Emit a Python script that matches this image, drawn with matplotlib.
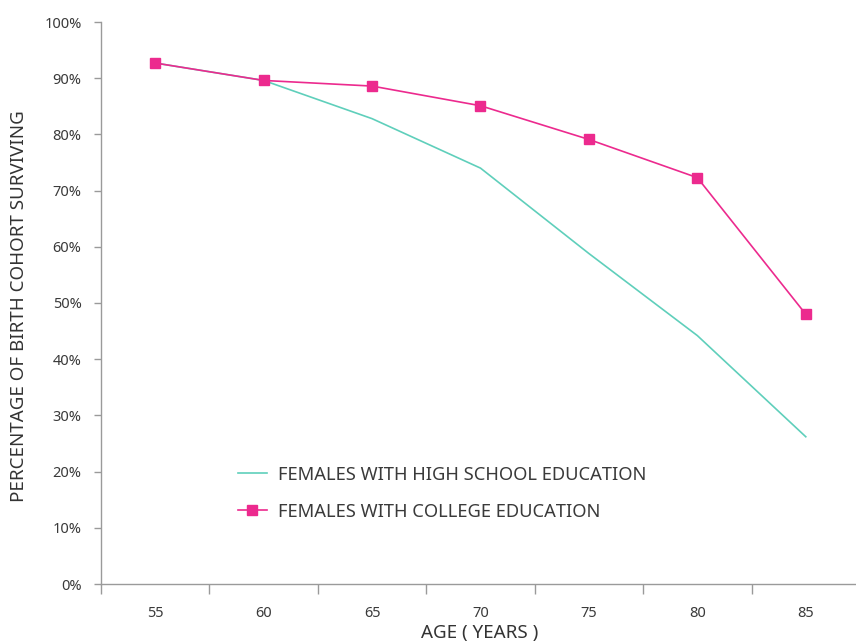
import matplotlib
matplotlib.use("Agg")
import matplotlib.pyplot as plt
from matplotlib.ticker import FuncFormatter

# Survival of the birth cohort by age
ages = ["55", "60", "65", "70", "75", "80", "85"]
high_school = [92.7, 89.6, 82.8, 74.0, 58.8, 44.2, 26.2]
college = [92.7, 89.6, 88.6, 85.1, 79.1, 72.3, 48.0]

plt.rcParams['font.family'] = ['Noto Sans', 'DejaVu Sans']

W, H = 856, 643
fig = plt.figure(figsize=(W / 100, H / 100), dpi=100)
ax = fig.add_axes([101 / W, (H - 584) / H, 759 / W, 562 / H])

x = range(len(ages))
ax.plot(x, high_school, color='#5fcfbb', linewidth=1.2,
        label="FEMALES WITH HIGH SCHOOL EDUCATION")
ax.plot(x, college, color='#ec2a8e', linewidth=1.2, marker='s',
        markersize=7.3, label="FEMALES WITH COLLEGE EDUCATION")

ax.set_xlim(-0.5, len(ages) - 0.5)
ax.set_ylim(0, 100)
ax.set_yticks(range(0, 101, 10))
ax.yaxis.set_major_formatter(FuncFormatter(lambda v, p: f"{int(v)}%"))

# category ticks between groups, labels centred on groups
ax.set_xticks([i - 0.5 for i in range(len(ages) + 1)])
ax.set_xticklabels([])
ax.set_xticks(list(x), minor=True)
ax.set_xticklabels(ages, minor=True)
ax.tick_params(axis='x', which='major', length=7, color='#9a9a9a', width=1)
ax.tick_params(axis='x', which='minor', length=0, pad=16, labelsize=10.5, labelcolor='#3a3a3a')
ax.tick_params(axis='y', length=5, color='#9a9a9a', width=1, pad=9,
               labelsize=10.5, labelcolor='#3a3a3a')

for s in ['top', 'right']:
    ax.spines[s].set_visible(False)
for s in ['left', 'bottom']:
    ax.spines[s].set_color('#9a9a9a')
    ax.spines[s].set_linewidth(1)

ax.set_ylabel("PERCENTAGE OF BIRTH COHORT SURVIVING", fontsize=13.5,
              color='#333333', va='center')
ax.yaxis.set_label_coords(-(101 - 19) / 759, (584 - 306) / 562)
ax.set_xlabel("AGE ( YEARS )", fontsize=13.5, color='#333333', va='center')
ax.xaxis.set_label_coords((480 - 101) / 759, -(633 - 584) / 562)

leg = ax.legend(loc='upper left', bbox_to_anchor=(120 / 759, (584 - 449) / 562),
                frameon=False, fontsize=13.2, handlelength=1.6, handletextpad=0.6,
                labelspacing=1.05)
for t in leg.get_texts():
    t.set_color('#3a3a3a')

fig.savefig("out.png", dpi=100)
